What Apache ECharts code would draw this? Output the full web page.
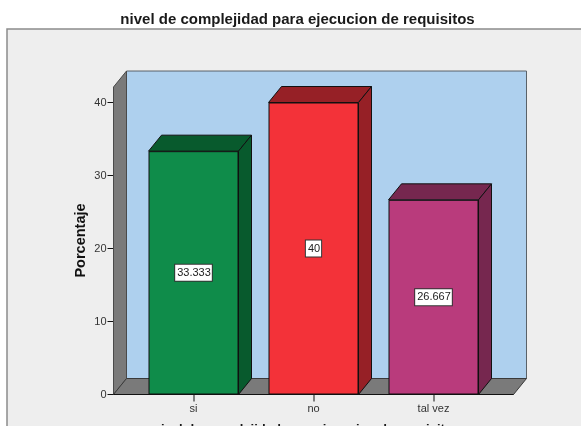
<!DOCTYPE html>
<html><head><meta charset="utf-8">
<style>html,body{margin:0;padding:0;background:#fff}#c{width:581px;height:426px}</style>
<script src="https://cdn.jsdelivr.net/npm/echarts@6/dist/echarts.min.js"></script>
</head><body><div id="c"></div>
<script>
const categories = ['si', 'no', 'tal vez'];
const values = [33.333, 40, 26.667];
const yTicks = [0, 10, 20, 30, 40];
const frontColors = ['#0f8c4a', '#f33239', '#b93b7c'];
const sideColors = ['#085a2d', '#962026', '#76274f'];
const chartTitle = 'nivel de complejidad para ejecucion de requisitos';
const xName = 'nivel de complejidad para ejecucion de requisitos';
const yName = 'Porcentaje';

const DX = 13, DY = 16, OVER = 20, WALL_TOP = 42.12, TICK = 7;
const chart = echarts.init(document.getElementById('c'), null, {renderer: 'canvas'});
const poly = (points, fill, stroke, w) => ({type: 'polygon', shape: {points}, style: {fill, stroke, lineWidth: w}});

chart.setOption({
  animation: false,
  backgroundColor: '#ffffff',
  title: {
    text: chartTitle, left: 292.5, top: 7, textAlign: 'center',
    textStyle: {fontFamily: 'Liberation Sans', fontSize: 15, fontWeight: 'bold', color: '#1a1a1a'}
  },
  graphic: [{
    type: 'rect', z: -10, silent: true,
    shape: {x: 7, y: 29, width: 590, height: 420},
    style: {fill: '#eeeeee', stroke: '#8c8c8c', lineWidth: 1.5}
  }],
  grid: {left: 133.5, top: 102.5, width: 360, height: 292, outerBoundsMode: 'none'},
  xAxis: {
    type: 'category', data: categories,
    axisLine: {show: true, lineStyle: {color: '#111'}},
    axisTick: {show: false},
    axisLabel: {color: '#333', fontFamily: 'Liberation Sans', fontSize: 11, margin: 9},
    name: xName, nameLocation: 'middle', nameGap: 28, nameMoveOverlap: false,
    nameTextStyle: {fontFamily: 'Liberation Sans', fontSize: 13, fontWeight: 'bold', color: '#1a1a1a', padding: [0, 14, 0, 0]}
  },
  yAxis: {
    type: 'value', min: yTicks[0], max: yTicks[yTicks.length - 1], interval: 10, offset: 20,
    splitLine: {show: false},
    axisLine: {show: true, lineStyle: {color: '#222'}},
    axisTick: {show: true, length: 6, lineStyle: {color: '#111'}},
    axisLabel: {color: '#333', fontFamily: 'Liberation Sans', fontSize: 11, margin: 7},
    name: yName, nameLocation: 'middle', nameGap: 25, nameRotate: 90, nameMoveOverlap: false,
    nameTextStyle: {fontFamily: 'Liberation Sans', fontSize: 14.5, fontWeight: 'bold', color: '#111', padding: [0, 0, 0, 16]}
  },
  series: [
    {
      type: 'custom', z: 1, silent: true, data: [[0, 0]],
      renderItem(params, api) {
        const cs = params.coordSys;
        const xl = cs.x - OVER, xr = cs.x + cs.width + OVER;
        const y0 = api.coord([0, 0])[1], yt = api.coord([0, WALL_TOP])[1];
        return {type: 'group', children: [
          poly([[xl + DX, yt - DY], [xr + DX, yt - DY], [xr + DX, y0 - DY], [xl + DX, y0 - DY]], '#aed0ee', '#5a6268', 1),
          poly([[xl, yt], [xl + DX, yt - DY], [xl + DX, y0 - DY], [xl, y0]], '#7a7a7a', '#4a4a4a', 1),
          poly([[xl, y0], [xl + DX, y0 - DY], [xr + DX, y0 - DY], [xr, y0]], '#7a7a7a', '#3a3a3a', 1),
          {type: 'line', shape: {x1: xl, y1: y0, x2: xr, y2: y0}, style: {stroke: '#111', lineWidth: 1}}
        ]};
      }
    },
    {
      type: 'custom', z: 2, silent: true,
      data: values.map((v, i) => [i, v]),
      renderItem(params, api) {
        const c = api.coord([api.value(0), api.value(1)]);
        const y0 = api.coord([api.value(0), 0])[1];
        const half = api.size([1, 0])[0] * 0.75 / 2;
        const x0 = c[0] - half, x1 = c[0] + half, yt = c[1];
        const col = sideColors[params.dataIndex];
        return {type: 'group', children: [
          poly([[x0, yt], [x0 + DX, yt - DY], [x1 + DX, yt - DY], [x1, yt]], col, '#111', 1),
          poly([[x1, yt], [x1 + DX, yt - DY], [x1 + DX, y0 - DY], [x1, y0]], col, '#111', 1),
          {type: 'rect', shape: {x: Math.round(c[0]) - 0.5, y: y0, width: 1, height: TICK}, style: {fill: '#111'}}
        ]};
      }
    },
    {
      type: 'bar', z: 3, barWidth: '75%',
      data: values.map((v, i) => ({value: v, itemStyle: {color: frontColors[i]}})),
      itemStyle: {borderColor: '#111', borderWidth: 1},
      label: {
        show: true, position: 'inside', formatter: p => String(p.value),
        color: '#222', fontFamily: 'Liberation Sans', fontSize: 11,
        backgroundColor: '#fff', borderColor: '#333', borderWidth: 1,
        padding: [3, 1, 2, 2], textBorderWidth: 0
      }
    }
  ]
});
</script></body></html>
